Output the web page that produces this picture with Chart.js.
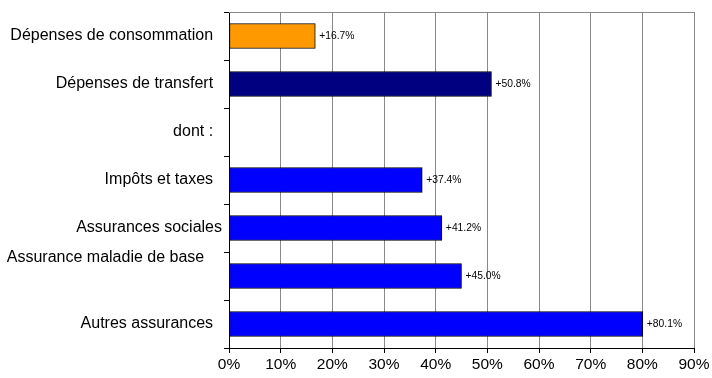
<!DOCTYPE html>
<html><head><meta charset="utf-8">
<script src="https://cdn.jsdelivr.net/npm/chart.js@4/dist/chart.umd.min.js"></script>
<style>html,body{margin:0;padding:0;background:#fff}#wrap{width:712px;height:378px}</style>
</head><body><div id="wrap"><canvas id="c"></canvas></div>
<script>
const categories = [
  "Dépenses de consommation  ",
  "Dépenses de transfert  ",
  "dont :  ",
  "Impôts et taxes  ",
  "Assurances sociales",
  ["Assurance maladie de base    ", "", ""],
  "Autres assurances  "
];
const values = [16.7, 50.8, null, 37.4, 41.2, 45.0, 80.1];
const valueLabels = ["+16.7%", "+50.8%", "", "+37.4%", "+41.2%", "+45.0%", "+80.1%"];
const barColors = ["#FF9900", "#000080", "#0000FF", "#0000FF", "#0000FF", "#0000FF", "#0000FF"];
const xTicks = [0, 10, 20, 30, 40, 50, 60, 70, 80, 90];

const FONT = "'Liberation Sans', Arial, sans-serif";

const valuePlugin = {
  id: 'valueLabels',
  afterDatasetsDraw(chart) {
    const ctx = chart.ctx;
    const meta = chart.getDatasetMeta(0);
    ctx.save();
    ctx.font = "10.3px " + FONT;
    ctx.fillStyle = "#000";
    ctx.textAlign = "left";
    ctx.textBaseline = "middle";
    meta.data.forEach((bar, i) => {
      if (values[i] == null) return;
      ctx.fillText(valueLabels[i], bar.x + 4, bar.y);
    });
    ctx.restore();
  }
};
const framePlugin = {
  id: 'frame',
  beforeDatasetsDraw(chart) {
    const a = chart.chartArea, ctx = chart.ctx;
    ctx.save();
    ctx.strokeStyle = "#888";
    ctx.lineWidth = 1;
    ctx.beginPath();
    ctx.moveTo(a.left, a.top + 0.5);
    ctx.lineTo(a.right, a.top + 0.5);
    ctx.stroke();
    ctx.restore();
  }
};

new Chart(document.getElementById('c'), {
  type: 'bar',
  data: {
    labels: categories,
    datasets: [{
      data: values,
      backgroundColor: barColors,
      borderColor: "#000",
      borderWidth: 1,
      borderSkipped: false,
      barThickness: 25
    }]
  },
  options: {
    indexAxis: 'y',
    responsive: true,
    maintainAspectRatio: false,
    animation: false,
    layout: { padding: { top: 12, right: 18, left: 0, bottom: 0 } },
    plugins: { legend: { display: false }, tooltip: { enabled: false } },
    scales: {
      x: {
        min: 0, max: 90,
        afterBuildTicks(scale) { scale.ticks = xTicks.map(v => ({ value: v })); },
        afterFit(scale) { scale.height = 30; scale.paddingLeft = 0; scale.paddingRight = 0; },
        ticks: {
          callback: v => v + "%",
          color: "#000",
          font: { family: FONT, size: 15.5 },
          padding: 2,
          maxRotation: 0,
          autoSkip: false
        },
        grid: { color: "#888", lineWidth: 1, tickLength: 5, tickColor: "#000" },
        border: { color: "#000", width: 1 }
      },
      y: {
        afterFit(scale) { scale.width = 229; scale.paddingTop = 0; scale.paddingBottom = 0; },
        ticks: {
          color: "#000",
          font: { family: FONT, size: 16, lineHeight: 1.15 },
          padding: 2,
          autoSkip: false
        },
        grid: { offset: true, drawOnChartArea: false, tickLength: 5, tickColor: "#000" },
        border: { color: "#000", width: 1 }
      }
    }
  },
  plugins: [valuePlugin, framePlugin]
});
</script>
</body></html>
